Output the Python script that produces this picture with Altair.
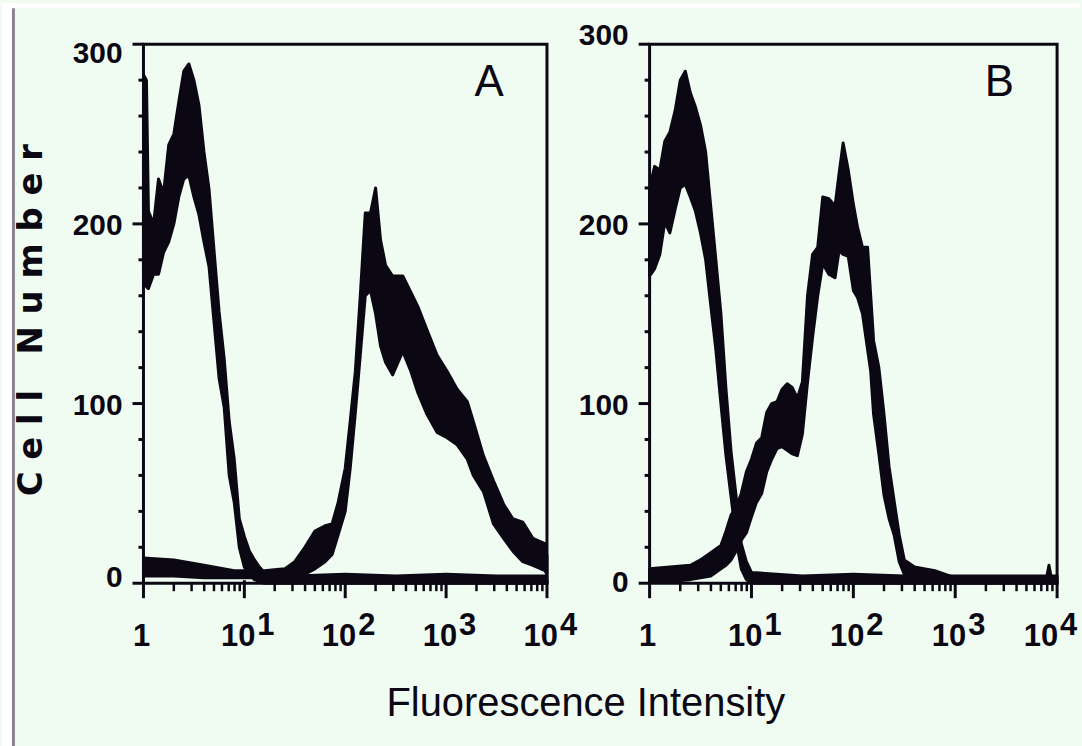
import altair as alt
import pandas as pd

# ---------------- data ----------------
# Each flow-cytometry trace is a noisy band: intensity, lower edge, upper edge (cell number)

# Panel A – control (left) trace
a_neg_x = [1.0, 1.07, 1.12, 1.26, 1.41, 1.58, 1.78, 2.0, 2.24, 2.51, 2.82, 3.16, 3.55, 3.98, 4.47,
           5.01, 5.62, 6.31, 7.08, 7.94, 8.91, 10.0, 11.2, 12.6, 14.1, 15.8, 31.6, 100, 316, 1000,
           3162, 10000]
a_neg_lo = [168, 165, 164, 172, 172, 184, 190, 200, 215, 225, 227, 215, 205, 190, 176,
            145, 114, 98, 60, 45, 20, 9, 5, 2, 1, 0, 0, 0, 0, 0,
            0, 0]
a_neg_hi = [283, 280, 207, 200, 225, 217, 244, 250, 268, 285, 289, 280, 266, 240, 219,
            185, 151, 125, 90, 69, 36, 26, 18, 13, 9, 6, 4, 5, 4, 5,
            4, 4]

# Panel A – stained (right) trace
a_pos_x = [1.0, 2.0, 3.98, 7.94, 15.8, 25.1, 31.6, 39.8, 50.1, 63.1, 74.1, 85.1, 100, 112, 126,
           141, 158, 178, 200, 224, 251, 295, 372, 447, 525, 646, 813, 1023, 1288, 1622,
           1862, 2344, 2951, 3715, 4571, 5754, 7244, 9550, 10000]
a_pos_lo = [4, 4, 3, 3, 3, 3, 4, 5, 8, 12, 16, 27, 40, 64, 95,
            127, 160, 163, 150, 132, 123, 116, 129, 118, 106, 94, 84, 81, 77, 69,
            60, 51, 33, 25, 18, 12, 10, 7, 5]
a_pos_hi = [14, 13, 10, 7, 7, 8, 12, 20, 29, 32, 33, 45, 64, 90, 118,
            160, 206, 206, 220, 191, 177, 171, 171, 162, 154, 141, 127, 118, 108, 101,
            90, 71, 57, 44, 36, 34, 25, 22, 15]

# Panel B – control (left) trace
b_neg_x = [1.0, 1.12, 1.26, 1.41, 1.58, 1.78, 2.0, 2.24, 2.51, 2.82, 3.16, 3.55, 3.98, 4.47, 5.01,
           5.62, 6.31, 7.08, 7.94, 8.91, 10.0, 31.6, 100, 316, 1000, 3162, 7943, 8318, 8710, 10000]
b_neg_lo = [171, 175, 183, 201, 195, 208, 220, 222, 215, 207, 195, 180, 155, 130, 100,
            71, 48, 24, 8, 2, 0, 0, 0, 0, 0, 0, 0, 0, 0, 0]
b_neg_hi = [220, 232, 230, 246, 251, 263, 280, 285, 273, 265, 255, 240, 210, 180, 150,
            108, 73, 48, 22, 12, 6, 4, 5, 4, 4, 4, 4, 10, 4, 4]

# Panel B – stained (right) trace
b_pos_x = [1.0, 1.58, 2.51, 3.16, 3.98, 5.01, 5.62, 6.31, 7.08, 7.94, 8.91, 10.0, 11.2, 12.6, 14.1,
           15.8, 17.8, 20.0, 22.4, 25.1, 28.2, 31.6, 35.5, 39.8, 44.7, 50.1, 57.5, 66.1, 72.4, 79.4,
           89.1, 100, 110, 123, 138, 148, 158, 178, 200, 224, 251, 282, 316, 355, 398,
           631, 1000]
b_pos_lo = [1, 1, 2, 3, 4, 8, 10, 13, 18, 24, 28, 37, 45, 50, 62,
            69, 75, 76, 74, 72, 71, 83, 112, 137, 160, 178, 172, 170, 185, 183,
            182, 163, 159, 150, 130, 118, 94, 72, 49, 36, 27, 12, 5, 2, 1,
            1, 0]
b_pos_hi = [8, 9, 10, 13, 17, 21, 29, 38, 42, 50, 62, 69, 78, 81, 95,
            100, 101, 108, 111, 109, 103, 112, 160, 183, 187, 215, 214, 210, 228, 245,
            230, 211, 198, 187, 187, 160, 135, 120, 94, 65, 46, 27, 13, 11, 9,
            7, 3]

# axis ticks and labels
x_major = [1, 10, 100, 1000, 10000]
x_minor = [2, 3, 4, 5, 6, 7, 8, 9, 20, 30, 40, 50, 60, 70, 80, 90,
           200, 300, 400, 500, 600, 700, 800, 900, 2000, 3000, 4000, 5000, 6000, 7000, 8000, 9000]
x_decades = [10, 100, 1000]
x_exponents = ["1", "2", "3"]
x_last = [10000]
x_last_exp = ["4"]
y_major = [0, 100, 200, 300]
y_minor = [20, 40, 60, 80, 120, 140, 160, 180, 220, 240, 260, 280]
y_mid_labels = [100, 200]

# ---------------- styling ----------------
INK = "#0b0713"
BG = "#f0fcf2"
GREY = "#8a8393"
NUM_FONT = "Liberation Sans, Arial, sans-serif"
H = 541
W_A, W_B = 405, 409

XS = alt.Scale(type="log", domain=[1, 10000])
YS = alt.Scale(domain=[0, 300], nice=False, zero=False)
one = pd.DataFrame({"k": [0]})


def curves_df(specs):
    frames = []
    for name, xs_, lo, hi in specs:
        frames.append(pd.DataFrame({"x": xs_, "low": lo, "high": hi, "curve": name}))
    return pd.concat(frames, ignore_index=True)


def panel(df, width, letter, y300_dy, y0_dy, last_dx):
    X = lambda f: alt.X(f, scale=XS, axis=None)
    Y = lambda f: alt.Y(f, scale=YS, axis=None)

    traces = alt.Chart(df).mark_area(fill=INK, stroke=INK, strokeWidth=3, strokeJoin="round").encode(
        x=X("x:Q"), y=Y("low:Q"), y2="high:Q", detail="curve:N")

    ymaj = alt.Chart(pd.DataFrame({"v": y_major})).mark_rule(color=INK, strokeWidth=3).encode(
        y=Y("v:Q"), x=alt.value(-11), x2=alt.value(0))
    ymin = alt.Chart(pd.DataFrame({"v": y_minor})).mark_rule(color=INK, strokeWidth=3).encode(
        y=Y("v:Q"), x=alt.value(-5), x2=alt.value(0))
    xmaj = alt.Chart(pd.DataFrame({"v": x_major})).mark_rule(color=INK, strokeWidth=3).encode(
        x=X("v:Q"), y=alt.value(H - 3), y2=alt.value(H + 15))
    xmin = alt.Chart(pd.DataFrame({"v": x_minor})).mark_rule(color=INK, strokeWidth=2.5).encode(
        x=X("v:Q"), y=alt.value(H), y2=alt.value(H + 8))

    lab = dict(font=NUM_FONT, fontWeight="bold", fontSize=30, color=INK, align="right", baseline="middle")
    ylab_mid = alt.Chart(pd.DataFrame({"v": y_mid_labels})).mark_text(dy=2, **lab).encode(
        y=Y("v:Q"), x=alt.value(-21), text=alt.Text("v:Q", format="d"))
    ylab_0 = alt.Chart(pd.DataFrame({"v": [0]})).mark_text(dy=y0_dy, **lab).encode(
        y=Y("v:Q"), x=alt.value(-21), text=alt.Text("v:Q", format="d"))
    ylab_300 = alt.Chart(pd.DataFrame({"v": [300]})).mark_text(dy=y300_dy, **lab).encode(
        y=Y("v:Q"), x=alt.value(-21), text=alt.Text("v:Q", format="d"))

    xl = dict(font=NUM_FONT, fontWeight="bold", fontSize=31, color=INK, baseline="alphabetic")
    xlab_1 = alt.Chart(pd.DataFrame({"v": [1]})).mark_text(align="center", dx=-2, **xl).encode(
        x=X("v:Q"), y=alt.value(H + 63), text=alt.value("1"))
    xlab_10 = alt.Chart(pd.DataFrame({"v": x_decades})).mark_text(align="right", dx=11, **xl).encode(
        x=X("v:Q"), y=alt.value(H + 63), text=alt.value("10"))
    xlab_sup = alt.Chart(pd.DataFrame({"v": x_decades, "e": x_exponents})).mark_text(
        align="left", dx=13, **xl).encode(x=X("v:Q"), y=alt.value(H + 52), text="e:N")
    xlab_10l = alt.Chart(pd.DataFrame({"v": x_last})).mark_text(align="right", dx=last_dx, **xl).encode(
        x=X("v:Q"), y=alt.value(H + 63), text=alt.value("10"))
    xlab_supl = alt.Chart(pd.DataFrame({"v": x_last, "e": x_last_exp})).mark_text(
        align="left", dx=last_dx + 2, **xl).encode(x=X("v:Q"), y=alt.value(H + 52), text="e:N")

    letter_mark = alt.Chart(one).mark_text(font=NUM_FONT, fontSize=44, color=INK, align="center",
                                           baseline="alphabetic").encode(
        x=alt.value(width - 58), y=alt.value(52), text=alt.value(letter))

    layers = [traces, ymaj, ymin, xmaj, xmin, ylab_mid, ylab_0, ylab_300,
              xlab_1, xlab_10, xlab_sup, xlab_10l, xlab_supl, letter_mark]
    return layers


df_a = curves_df([("control", a_neg_x, a_neg_lo, a_neg_hi), ("stained", a_pos_x, a_pos_lo, a_pos_hi)])
df_b = curves_df([("control", b_neg_x, b_neg_lo, b_neg_hi), ("stained", b_pos_x, b_pos_lo, b_pos_hi)])

# page frame pieces (white margin strips and grey rule) and shared titles, placed from panel A
top_strip = alt.Chart(one).mark_rect(color="white").encode(
    x=alt.value(-142), x2=alt.value(940), y=alt.value(-41), y2=alt.value(-36))
left_strip = alt.Chart(one).mark_rect(color="white").encode(
    x=alt.value(-142), x2=alt.value(-132), y=alt.value(-41), y2=alt.value(705))
grey_rule = alt.Chart(one).mark_rect(color=GREY).encode(
    x=alt.value(-132), x2=alt.value(-129), y=alt.value(-36), y2=alt.value(705))
y_title = alt.Chart(one).mark_text(font="DejaVu Sans", fontWeight="bold", fontSize=34, angle=270,
                                   align="center", baseline="middle", color=INK).encode(
    x=alt.value(-112), y=alt.value(277),
    text=alt.value("C\u00a0e\u00a0l\u00a0l\u00a0\u00a0\u00a0N\u00a0u\u00a0m\u00a0b\u00a0e\u00a0r"))
x_title = alt.Chart(one).mark_text(font=NUM_FONT, fontSize=40, align="center",
                                   baseline="alphabetic", color=INK).encode(
    x=alt.value(444), y=alt.value(674), text=alt.value("Fluorescence Intensity"))

panel_a = alt.layer(top_strip, left_strip, grey_rule, *panel(df_a, W_A, "A", 10, -5, 11),
                    y_title, x_title).properties(width=W_A, height=H)
panel_b = alt.layer(*panel(df_b, W_B, "B", -8, 0, 1)).properties(width=W_B, height=H)

chart = alt.hconcat(panel_a, panel_b, spacing=103, bounds="flush").properties(
    padding=0, background=BG
).configure_view(stroke=INK, strokeWidth=3)

chart.save("out.html", embed_options={"renderer": "svg", "actions": False})
